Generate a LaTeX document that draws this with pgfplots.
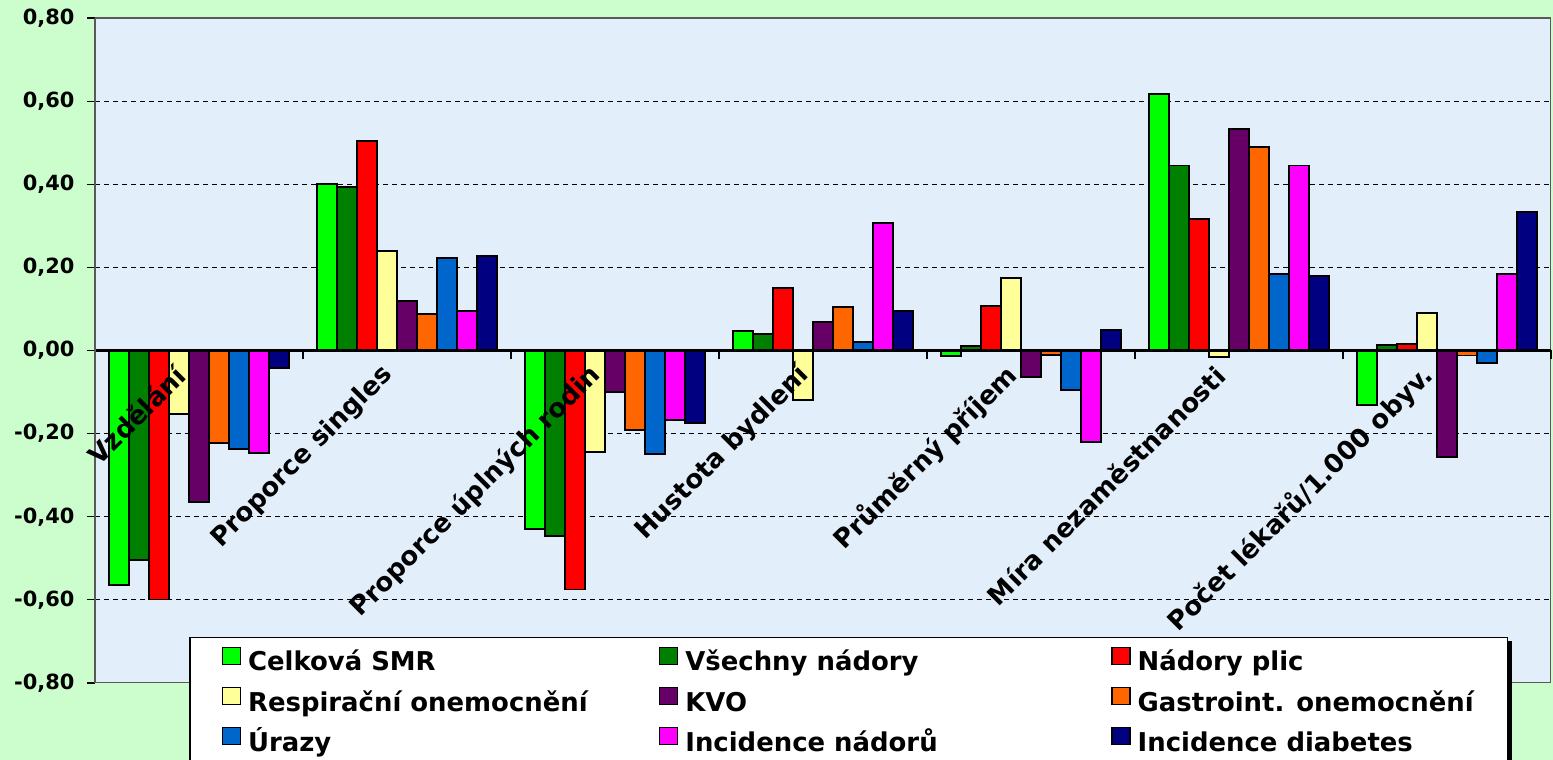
\documentclass[border=0pt]{standalone}
\usepackage{pgfplots}
\pgfplotsset{compat=1.18}
\usepackage{pgfplotstable}
\usepackage{fontspec}
\setmainfont{DejaVu Sans}

\definecolor{outerbg}{RGB}{204,253,204}
\definecolor{plotbg}{RGB}{226,238,250}
\definecolor{cSMR}{RGB}{0,255,0}
\definecolor{cVsech}{RGB}{0,128,0}
\definecolor{cPlic}{RGB}{255,0,0}
\definecolor{cResp}{RGB}{255,255,153}
\definecolor{cKVO}{RGB}{102,0,102}
\definecolor{cGastro}{RGB}{255,102,0}
\definecolor{cUrazy}{RGB}{0,102,204}
\definecolor{cIncN}{RGB}{255,0,255}
\definecolor{cIncD}{RGB}{0,0,128}

% correlation coefficients: 7 factors x 9 indicators
\pgfplotstableread{
x  smr     vsech   plic    resp    kvo     gastro  urazy   incn    incd
1  -0.565  -0.503  -0.599  -0.152  -0.364  -0.222  -0.236  -0.246  -0.043
2   0.400   0.393   0.505   0.240   0.120   0.087   0.223   0.096   0.227
3  -0.429  -0.446  -0.575  -0.244  -0.100  -0.192  -0.250  -0.168  -0.174
4   0.046   0.040   0.151  -0.120   0.068   0.105   0.020   0.307   0.094
5  -0.014   0.010   0.108   0.175  -0.064  -0.010  -0.096  -0.220   0.050
6   0.617   0.445   0.317  -0.016   0.533   0.490   0.184   0.445   0.179
7  -0.132   0.014   0.016   0.090  -0.256  -0.012  -0.031   0.183   0.333
}\datatable

\pgfplotsset{
  layers/barsbelow/.define layer set={
    pagebg,axis background,axis grid,main,axis ticks,axis lines,
    axis tick labels,axis descriptions,axis foreground
  }{/pgfplots/layers/standard},
  sqbar/.style={fill=#1, draw=black, line width=1.9bp,
    legend image code/.code={\draw[fill=#1, draw=black, line width=1.3bp] (0bp,0bp) rectangle (18bp,17bp);}},
}
\newcommand{\colA}[1]{\makebox[404bp][l]{#1}}
\newcommand{\colB}[1]{\makebox[419bp][l]{#1}}

\begin{document}
\begin{tikzpicture}
\begin{axis}[
  set layers=barsbelow,
  at={(95bp,77bp)}, anchor=south west,
  scale only axis, width=1456bp, height=665bp,
  xmin=0.5, xmax=7.5, ymin=-0.8, ymax=0.8,
  axis x line*=middle, axis y line*=left,
  axis background/.style={fill=plotbg},
  x axis line style={black, line width=3bp},
  y axis line style={draw=gray!70!black, line width=2bp},
  ybar=0pt, bar width=0.0962,
  xtick={1,...,7},
  xticklabels={Vzdělání, Proporce singles, Proporce úplných rodin, Hustota bydlení, Průměrný příjem, Míra nezaměstnanosti, Počet lékařů/1.000 obyv.},
  minor xtick={0.5,1.5,...,7.5},
  ytick={-0.8,-0.6,-0.4,-0.2,0,0.2,0.4,0.6,0.8},
  tick align=outside,
  major tick length=8bp, minor tick length=9bp,
  major x tick style={draw=none},
  minor x tick style={black, line width=2.5bp},
  major y tick style={black, line width=1.2bp},
  ymajorgrids,
  major grid style={black, line width=1bp, dash pattern=on 5bp off 4bp},
  /pgf/number format/assume math mode=true,
  yticklabel style={font=\bfseries\fontsize{21}{24}\selectfont, xshift=-9bp,
    /pgf/number format/.cd, fixed, fixed zerofill, precision=2, use comma},
  xticklabel style={font=\bfseries\fontsize{26}{30}\selectfont,
    xshift=-16bp, yshift=-10bp, rotate=45, anchor=east},
  legend columns=3, legend cell align=left,
  legend style={
    name=lgd,
    at={(axis description cs:0.0646,0.0692)}, anchor=north west,
    draw=black, line width=1.5bp, fill=white,
    font=\bfseries\fontsize{26}{30}\selectfont,
    inner xsep=32bp, inner ysep=9bp,
    column sep=5bp, row sep=8bp,
    nodes={inner sep=2bp, text height=19bp, text depth=6bp},
  },
]
\begin{pgfonlayer}{pagebg}
\fill[outerbg] (rel axis cs:0,0) ++(-95bp,-77bp) rectangle ++(1553bp,760bp);
\end{pgfonlayer}
\addplot[sqbar=cSMR]   table[x=x, y=smr]    {\datatable};
\addplot[sqbar=cVsech] table[x=x, y=vsech]  {\datatable};
\addplot[sqbar=cPlic]  table[x=x, y=plic]   {\datatable};
\addplot[sqbar=cResp]  table[x=x, y=resp]   {\datatable};
\addplot[sqbar=cKVO]   table[x=x, y=kvo]    {\datatable};
\addplot[sqbar=cGastro]table[x=x, y=gastro] {\datatable};
\addplot[sqbar=cUrazy] table[x=x, y=urazy]  {\datatable};
\addplot[sqbar=cIncN]  table[x=x, y=incn]   {\datatable};
\addplot[sqbar=cIncD]  table[x=x, y=incd]   {\datatable};
\legend{\colA{Celková SMR}, \colB{Všechny nádory}, Nádory plic,
        \colA{Respirační onemocnění}, \colB{KVO}, Gastroint. onemocnění,
        \colA{Úrazy}, \colB{Incidence nádorů}, Incidence diabetes}
% plot-area frame
\draw[draw=gray!70!black, line width=2bp] (rel axis cs:0,0) rectangle (rel axis cs:1,1);
\end{axis}
% legend drop shadow (legend itself sits on a higher layer)
\fill[black] ([xshift=4bp,yshift=-4bp]lgd.south west) rectangle ([xshift=4bp,yshift=-4bp]lgd.north east);
\pgfresetboundingbox
\useasboundingbox (0,0) rectangle (1553bp,760bp);
\end{tikzpicture}
\end{document}
